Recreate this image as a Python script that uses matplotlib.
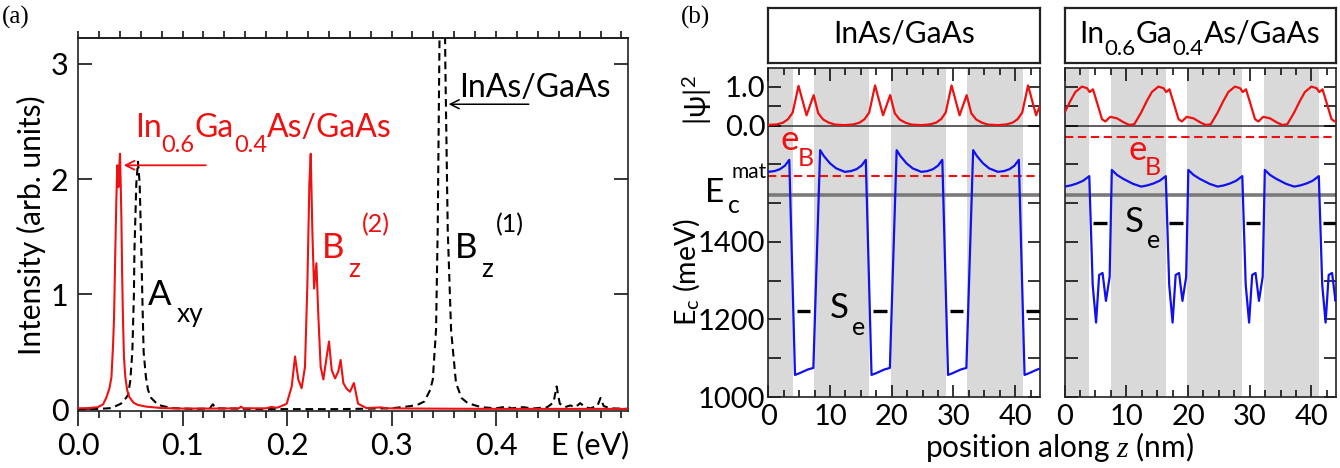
import matplotlib
matplotlib.use('Agg')
import matplotlib.pyplot as plt
import matplotlib.transforms as mtransforms
from matplotlib.ticker import MultipleLocator, FixedLocator

plt.rcParams['font.family'] = ['Lato', 'DejaVu Sans']
plt.rcParams['mathtext.fontset'] = 'custom'
plt.rcParams['mathtext.rm'] = 'Lato'
plt.rcParams['mathtext.it'] = 'Liberation Serif:italic'
plt.rcParams['mathtext.bf'] = 'Lato:bold'
plt.rcParams['mathtext.sf'] = 'Lato'

# ---------------- panel (a) data ----------------
red_E = [0.000, 0.010, 0.019, 0.024, 0.027, 0.030, 0.032, 0.0335, 0.0345, 0.0357,
         0.0367, 0.0376, 0.0386, 0.0394, 0.0402, 0.0410, 0.0415, 0.0422, 0.0430, 0.0440,
         0.0453, 0.0470, 0.0490, 0.0530, 0.0570, 0.0650, 0.0800, 0.1000, 0.1300, 0.1540,
         0.1560, 0.1580, 0.1800, 0.1850, 0.1900, 0.1933, 0.1997, 0.2045, 0.2077, 0.2108,
         0.2140, 0.2172, 0.2195, 0.2214, 0.2227, 0.2243, 0.2259, 0.2281, 0.2300, 0.2322,
         0.2348, 0.2380, 0.2402, 0.2428, 0.2460, 0.2491, 0.2513, 0.2539, 0.2570, 0.2603,
         0.2640, 0.2680, 0.2760, 0.2900, 0.2950, 0.3200, 0.4000, 0.5260]
red_I = [0.010, 0.012, 0.020, 0.045, 0.10, 0.18, 0.28, 0.55, 0.80, 1.38,
         1.82, 2.12, 1.93, 2.10, 2.22, 1.90, 1.67, 1.20, 0.80, 0.45,
         0.28, 0.17, 0.11, 0.06, 0.04, 0.025, 0.012, 0.008, 0.008, 0.010,
         0.025, 0.010, 0.010, 0.022, 0.015, 0.024, 0.05, 0.20, 0.46, 0.26,
         0.184, 0.37, 1.09, 1.96, 2.22, 1.53, 1.05, 1.27, 0.81, 0.37,
         0.26, 0.46, 0.59, 0.34, 0.27, 0.33, 0.43, 0.23, 0.18, 0.154,
         0.23, 0.05, 0.012, 0.018, 0.010, 0.008, 0.005, 0.005]

blk_E = [0.000, 0.020, 0.032, 0.041, 0.046, 0.048, 0.050, 0.052, 0.0535, 0.054,
         0.0558, 0.0574, 0.059, 0.0606, 0.0615, 0.0628, 0.065, 0.067, 0.070, 0.0766,
         0.089, 0.110, 0.126, 0.129, 0.132, 0.180, 0.250, 0.300, 0.3187, 0.3260,
         0.3315, 0.3370, 0.3395, 0.3426, 0.3442, 0.3457, 0.3470, 0.3487, 0.3504, 0.3515,
         0.3538, 0.3570, 0.3617, 0.3670, 0.3729, 0.3857, 0.400, 0.410, 0.415, 0.426,
         0.435, 0.449, 0.455, 0.458, 0.461, 0.466, 0.471, 0.476, 0.4806, 0.485,
         0.490, 0.497, 0.500, 0.503, 0.509, 0.526]
blk_I = [0.002, 0.005, 0.012, 0.05, 0.10, 0.13, 0.25, 0.50, 1.00, 1.38,
         1.96, 2.15, 1.96, 1.38, 1.00, 0.50, 0.28, 0.17, 0.10, 0.04,
         0.012, 0.005, 0.008, 0.045, 0.010, 0.003, 0.003, 0.010, 0.03, 0.045,
         0.07, 0.17, 0.26, 0.69, 1.56, 3.0, 4.2, 5.0, 4.2, 3.0,
         1.56, 0.69, 0.23, 0.10, 0.055, 0.02, 0.010, 0.025, 0.010, 0.020,
         0.008, 0.020, 0.06, 0.20, 0.05, 0.020, 0.035, 0.020, 0.055, 0.020,
         0.010, 0.030, 0.10, 0.030, 0.010, 0.005]

# ---------------- panel (b) data ----------------
# |psi|^2, InAs/GaAs
psiL_z = [0.0, 1.4, 2.4, 3.2, 3.95, 4.9, 6.2, 7.35, 8.1, 8.9, 9.8, 10.8,
          12.4, 13.8, 14.8, 15.6, 16.35, 17.3, 18.6, 19.75, 20.5, 21.3, 22.2, 23.2,
          24.8, 26.2, 27.2, 28.0, 28.75, 29.7, 31.0, 32.15, 32.9, 33.7, 34.6, 35.6,
          37.2, 38.6, 39.6, 40.4, 41.15, 42.1, 43.4, 44.0]
psiL_v = [0.02, 0.035, 0.08, 0.17, 0.34, 1.03, 0.27, 0.79, 0.32, 0.16, 0.08, 0.03,
          0.015, 0.035, 0.08, 0.17, 0.34, 1.04, 0.27, 0.79, 0.32, 0.16, 0.08, 0.03,
          0.015, 0.035, 0.08, 0.17, 0.34, 1.04, 0.27, 0.79, 0.32, 0.16, 0.08, 0.03,
          0.015, 0.035, 0.08, 0.17, 0.34, 1.04, 0.27, 0.50]
# |psi|^2, In0.6Ga0.4As/GaAs
psiR_z = [0.0, 0.93, 1.74, 2.8, 3.63, 4.06, 4.6, 5.25, 6.06, 6.6, 7.4, 8.5, 9.6, 10.5, 11.3,
          12.4, 13.33, 14.14, 15.2, 16.03, 16.46, 17.0, 17.65, 18.46, 19.0, 19.8, 20.9, 22.0, 22.9, 23.7,
          24.8, 25.73, 26.54, 27.6, 28.43, 28.86, 29.4, 30.05, 30.86, 31.4, 32.2, 33.3, 34.4, 35.3, 36.1,
          37.2, 38.13, 38.94, 40.0, 40.83, 41.26, 41.8, 42.45, 43.26, 43.8, 44.0]
psiR_v = [0.34, 0.64, 0.87, 1.01, 0.97, 0.87, 0.94, 0.60, 0.17, 0.11, 0.23, 0.19, 0.085, 0.02, 0.04,
          0.34, 0.64, 0.87, 1.01, 0.97, 0.87, 0.94, 0.60, 0.17, 0.11, 0.23, 0.19, 0.085, 0.02, 0.04,
          0.34, 0.64, 0.87, 1.01, 0.97, 0.87, 0.94, 0.60, 0.17, 0.11, 0.23, 0.19, 0.085, 0.02, 0.04,
          0.34, 0.64, 0.87, 1.01, 0.97, 0.87, 0.94, 0.60, 0.17, 0.11, 0.13]

# conduction band profile, InAs/GaAs (meV)
ecL_z = [0.0, 1.0, 1.9, 2.7, 3.4, 4.33, 5.0, 5.7, 6.4, 7.3, 8.4, 9.0, 10.0, 11.0,
         12.4, 13.4, 14.3, 15.1, 15.8, 16.73, 17.4, 18.1, 18.8, 19.7, 20.8, 21.4, 22.4, 23.4,
         24.8, 25.8, 26.7, 27.5, 28.2, 29.13, 29.8, 30.5, 31.2, 32.1, 33.2, 33.8, 34.8, 35.8,
         37.2, 38.2, 39.1, 39.9, 40.6, 41.53, 42.2, 42.9, 43.6, 44.0]
ecL_E = [1581, 1583, 1588, 1597, 1612, 1057, 1061, 1066, 1071, 1075, 1637, 1622, 1603, 1590,
         1581, 1583, 1588, 1597, 1612, 1057, 1061, 1066, 1071, 1075, 1637, 1622, 1603, 1590,
         1581, 1583, 1588, 1597, 1612, 1057, 1061, 1066, 1071, 1075, 1637, 1622, 1603, 1590,
         1581, 1583, 1588, 1597, 1612, 1057, 1061, 1066, 1071, 1073]
# conduction band profile, In0.6Ga0.4As/GaAs (meV)
ecR_z = [0.0, 1.0, 2.0, 3.0, 4.0, 4.55, 5.1, 5.6, 6.15, 6.7, 7.3, 7.65, 8.5, 9.5, 11.1,
         12.4, 13.4, 14.4, 15.4, 16.4, 16.95, 17.5, 18.0, 18.55, 19.1, 19.7, 20.05, 20.9, 21.9, 23.5,
         24.8, 25.8, 26.8, 27.8, 28.8, 29.35, 29.9, 30.4, 30.95, 31.5, 32.1, 32.45, 33.3, 34.3, 35.9,
         37.2, 38.2, 39.2, 40.2, 41.2, 41.75, 42.3, 42.8, 43.35, 43.9, 44.0]
ecR_E = [1543, 1546, 1551, 1558, 1570, 1290, 1192, 1315, 1320, 1248, 1310, 1586, 1573, 1563, 1550,
         1543, 1546, 1551, 1558, 1570, 1290, 1192, 1315, 1320, 1248, 1310, 1586, 1573, 1563, 1550,
         1543, 1546, 1551, 1558, 1570, 1290, 1192, 1315, 1320, 1248, 1310, 1586, 1573, 1563, 1550,
         1543, 1546, 1551, 1558, 1570, 1290, 1192, 1315, 1320, 1248, 1262]

well_starts = [4.0, 16.4, 28.8, 41.2]
well_ends = [7.45, 19.85, 32.25, 44.65]
se_starts = [4.6, 17.0, 29.4, 41.8]
se_ends = [6.8, 19.2, 31.6, 44.0]
se_level = [1222, 1449]
eB_level = [1571, 1672]
ec_mat = 1521
psi_zero = 1700
psi_scale = 100

RED = '#ee1111'
BLUE = '#1111ee'
W, H = 1340, 468


def rect(l, t, r, b):
    return [l / W, 1 - b / H, (r - l) / W, (b - t) / H]


fig = plt.figure(figsize=(13.4, 4.68), dpi=100)
renderer = fig.canvas.get_renderer()


def put(x, y, s, size, color='black', **kw):
    """text placed at figure pixel coords (from top-left), baseline anchored"""
    return fig.text(x / W, 1 - y / H, s, fontsize=size, color=color, ha='left', va='baseline', **kw)


def chain(x, y, pieces, color='black', center=False):
    """run of text pieces (string, size, drop in px) laid out one after another"""
    texts = []
    cur = x
    for s, size, dy in pieces:
        t = put(cur, y + dy, s, size, color)
        cur += t.get_window_extent(renderer).width
        texts.append(t)
    if center:
        shift = (cur - x) / 2
        for t in texts:
            px, py = t.get_position()
            t.set_position((px - shift / W, py))
    return texts


# ================= panel (a) =================
axa = fig.add_axes(rect(78, 38, 628, 411.2))
axa.plot(blk_E, blk_I, color='black', lw=1.5, ls=(0, (3.7, 2.3)), zorder=3)
axa.plot(red_E, red_I, color=RED, lw=1.5, zorder=4)
axa.set_xlim(0, 0.5263)
axa.set_ylim(-0.015, 3.225)
axa.set_xticks([0.0, 0.1, 0.2, 0.3, 0.4])
axa.set_xticklabels(['0.0', '0.1', '0.2', '0.3', '0.4'])
axa.xaxis.set_minor_locator(MultipleLocator(0.02))
axa.set_yticks([0, 1, 2, 3])
axa.tick_params(axis='x', which='major', direction='out', length=11, width=1.1, labelsize=22, pad=4)
axa.tick_params(axis='x', which='minor', direction='out', length=5, width=1.1)
axa.tick_params(axis='y', which='major', direction='in', length=10, width=1.1, labelsize=22,
                left=True, right=True, pad=7)
for s in axa.spines.values():
    s.set_linewidth(1.2)
    s.set_color('#222222')
sec = axa.secondary_xaxis('top')
sec.set_xticks([0.0, 0.1, 0.2, 0.3, 0.4, 0.5])
sec.xaxis.set_minor_locator(MultipleLocator(0.02))
sec.tick_params(which='both', direction='out', length=5, width=1.1, labeltop=False)
sec.spines['top'].set_linewidth(1.2)

trans_a = mtransforms.blended_transform_factory(axa.transData, axa.transAxes)
axa.text(0.49, -0.09, 'E (eV)', transform=trans_a, ha='center', va='center', fontsize=22)

chain(135, 137, [('In', 23, 0), ('0.6', 17, 15), ('Ga', 23, 0), ('0.4', 17, 15), ('As/GaAs', 23, 0)],
      color=RED)
axa.annotate('', xy=(0.041, 2.12), xytext=(0.125, 2.12),
             arrowprops=dict(arrowstyle='->', color=RED, lw=1.3, mutation_scale=16))
t = put(535, 97, 'InAs/GaAs', 23)
t.set_ha('center')
axa.annotate('', xy=(0.352, 2.65), xytext=(0.434, 2.65),
             arrowprops=dict(arrowstyle='->', color='black', lw=1.1, mutation_scale=16))
put(147.5, 305, 'A', 25)
put(177, 322, 'xy', 19)
put(321.7, 258, 'B', 25, RED)
put(348, 277, 'z', 19, RED)
put(362, 232, '(2)', 18, RED)
put(455, 258, 'B', 25)
put(481.5, 277, 'z', 19)
put(495.5, 232, '(1)', 18)

fig.text(31 / W, 1 - 225 / H, 'Intensity (arb. units)', rotation=90, ha='center', va='center',
         fontsize=21.5)
fig.text(16 / W, 1 - 17 / H, '(a)', family='Liberation Serif', fontsize=18, ha='center', va='center')
fig.text(696 / W, 1 - 17 / H, '(b)', family='Liberation Serif', fontsize=18, ha='center', va='center')

# ================= panel (b) =================
panels = [
    (rect(768.3, 68, 1039.8, 397), rect(768.3, 8, 1039.8, 63), psiL_z, psiL_v, ecL_z, ecL_E, 0),
    (rect(1064.6, 68, 1336.1, 397), rect(1064.6, 8, 1336.1, 63), psiR_z, psiR_v, ecR_z, ecR_E, 1),
]
ytick_pos = [1000, 1100, 1200, 1300, 1400, 1500, 1600, 1700, 1750, 1800]
ytick_lab = ['1000', '', '1200', '', '1400', '', '', '0.0', '', '1.0']
for pos, spos, pz, pv, ez, ee, k in panels:
    ax = fig.add_axes(pos)
    prev = 0.0
    for ws, we in zip(well_starts, well_ends):
        ax.axvspan(prev, ws, color='#d9d9d9', lw=0, zorder=0)
        prev = we
    ax.axhline(psi_zero, color='#333333', lw=1.1, zorder=1)
    ax.axhline(ec_mat, color='#7a7a7a', lw=2.6, zorder=1)
    ax.axhline(eB_level[k], color=RED, lw=1.5, ls=(0, (4.0, 2.2)), zorder=2)
    ax.plot(pz, [psi_zero + psi_scale * v for v in pv], color=RED, lw=1.6, zorder=3)
    ax.plot(ez, ee, color=BLUE, lw=1.6, zorder=3)
    for a, b in zip(se_starts, se_ends):
        ax.plot([a, b], [se_level[k], se_level[k]], color='black', lw=2.4, zorder=4,
                solid_capstyle='butt')
    ax.set_xlim(0, 44)
    ax.set_ylim(1000, 1849)
    ax.set_xticks([0, 10, 20, 30, 40])
    ax.xaxis.set_minor_locator(MultipleLocator(2.5))
    ax.yaxis.set_major_locator(FixedLocator(ytick_pos))
    ax.set_yticklabels(ytick_lab if k == 0 else [''] * len(ytick_pos))
    ax.tick_params(axis='both', which='major', direction='in', length=9, width=1.1, labelsize=21,
                   top=True, right=True)
    ax.tick_params(axis='x', which='major', pad=5)
    ax.tick_params(axis='y', which='major', pad=2)
    ax.tick_params(axis='x', which='minor', direction='in', length=5, width=1.1, top=True)
    for s in ax.spines.values():
        s.set_linewidth(1.2)
        s.set_color('#222222')
    sax = fig.add_axes(spos)
    sax.set_xticks([])
    sax.set_yticks([])
    for s in sax.spines.values():
        s.set_linewidth(1.6)
        s.set_color('#222222')

t = put(904.5, 43, 'InAs/GaAs', 21.5)
t.set_ha('center')
chain(1200, 43, [('In', 21.5, 0), ('0.6', 16, 12), ('Ga', 21.5, 0), ('0.4', 16, 12), ('As/GaAs', 21.5, 0)],
      center=True)

# e_B and S_e labels
put(780, 150, 'e', 25, RED)
put(798, 166, 'B', 18, RED)
put(1128, 160, 'e', 25, RED)
put(1145, 175, 'B', 18, RED)
put(830, 318, 'S', 25)
put(851.5, 335, 'e', 18)
put(1125, 232, 'S', 25)
put(1146.5, 248, 'e', 18)

# E_c^mat label
put(705, 202, 'E', 24)
put(728, 213, 'c', 18)
put(731, 178, 'mat', 15)

fig.text(697 / W, 1 - 100 / H, r'|ψ|$^2$', rotation=90, fontsize=21, ha='center', va='center')
fig.text(687 / W, 1 - 272 / H, r'E$_\mathrm{c}$ (meV)', rotation=90, fontsize=20.5, ha='center',
         va='center')
t = put(1059, 457, r'position along $z$ (nm)', 21.5)
t.set_ha('center')

fig.savefig('out.png', dpi=100)
